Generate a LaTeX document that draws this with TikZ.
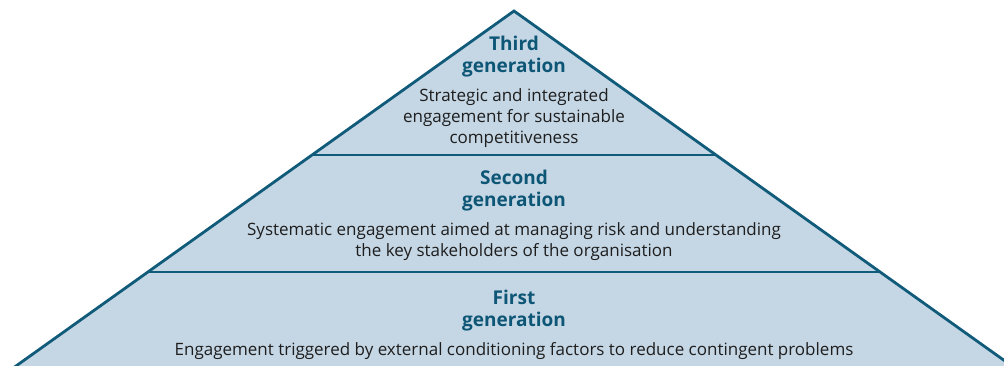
\documentclass[tikz,border=0pt]{standalone}
\usepackage{fontspec}
\setmainfont{Open Sans}
\definecolor{pyrfill}{HTML}{C5D6E4}
\definecolor{pyrline}{HTML}{105A7A}
\definecolor{ttl}{HTML}{0D5676}
\definecolor{bodytxt}{HTML}{1E1E1E}
\begin{document}
\begin{tikzpicture}[x=1pt,y=-1pt,
  edge/.style={draw=pyrline,line width=2.8pt},
  ttlnode/.style={text=ttl,font=\fontsize{19}{21.5}\selectfont\bfseries,align=center,inner sep=0pt},
  bodynode/.style={text=bodytxt,font=\fontsize{17}{21}\selectfont,align=center,inner sep=0pt}]
\useasboundingbox (0,0) rectangle (1004,365);
\begin{scope}
\clip (0,0) rectangle (1004,365);
\coordinate (apex) at (514,11);
\coordinate (bl) at (9,371);
\coordinate (br) at (1019,371);
\coordinate (l1) at (312,155);
\coordinate (r1) at (716,155);
\coordinate (l2) at (147,272);
\coordinate (r2) at (881,272);
\fill[pyrfill] (apex) -- (br) -- (bl) -- cycle;
\draw[edge] (l1) -- (r1);
\draw[edge] (l2) -- (r2);
\draw[edge,line join=miter] (bl) -- (apex) -- (br);
\end{scope}
\node[ttlnode] (t3) at (514,56.5) {Third\\generation};
\node[bodynode] (b3) at (514,118) {Strategic and integrated\\engagement for sustainable\\competitiveness};
\node[ttlnode] (t2) at (514,190.5) {Second\\generation};
\node[bodynode] (b2) at (514,242) {Systematic engagement aimed at managing risk and understanding\\the key stakeholders of the organisation};
\node[ttlnode] (t1) at (514,310.5) {First\\generation};
\node[bodynode] (b1) at (514,351.5) {Engagement triggered by external conditioning factors to reduce contingent problems};
\end{tikzpicture}
\end{document}
